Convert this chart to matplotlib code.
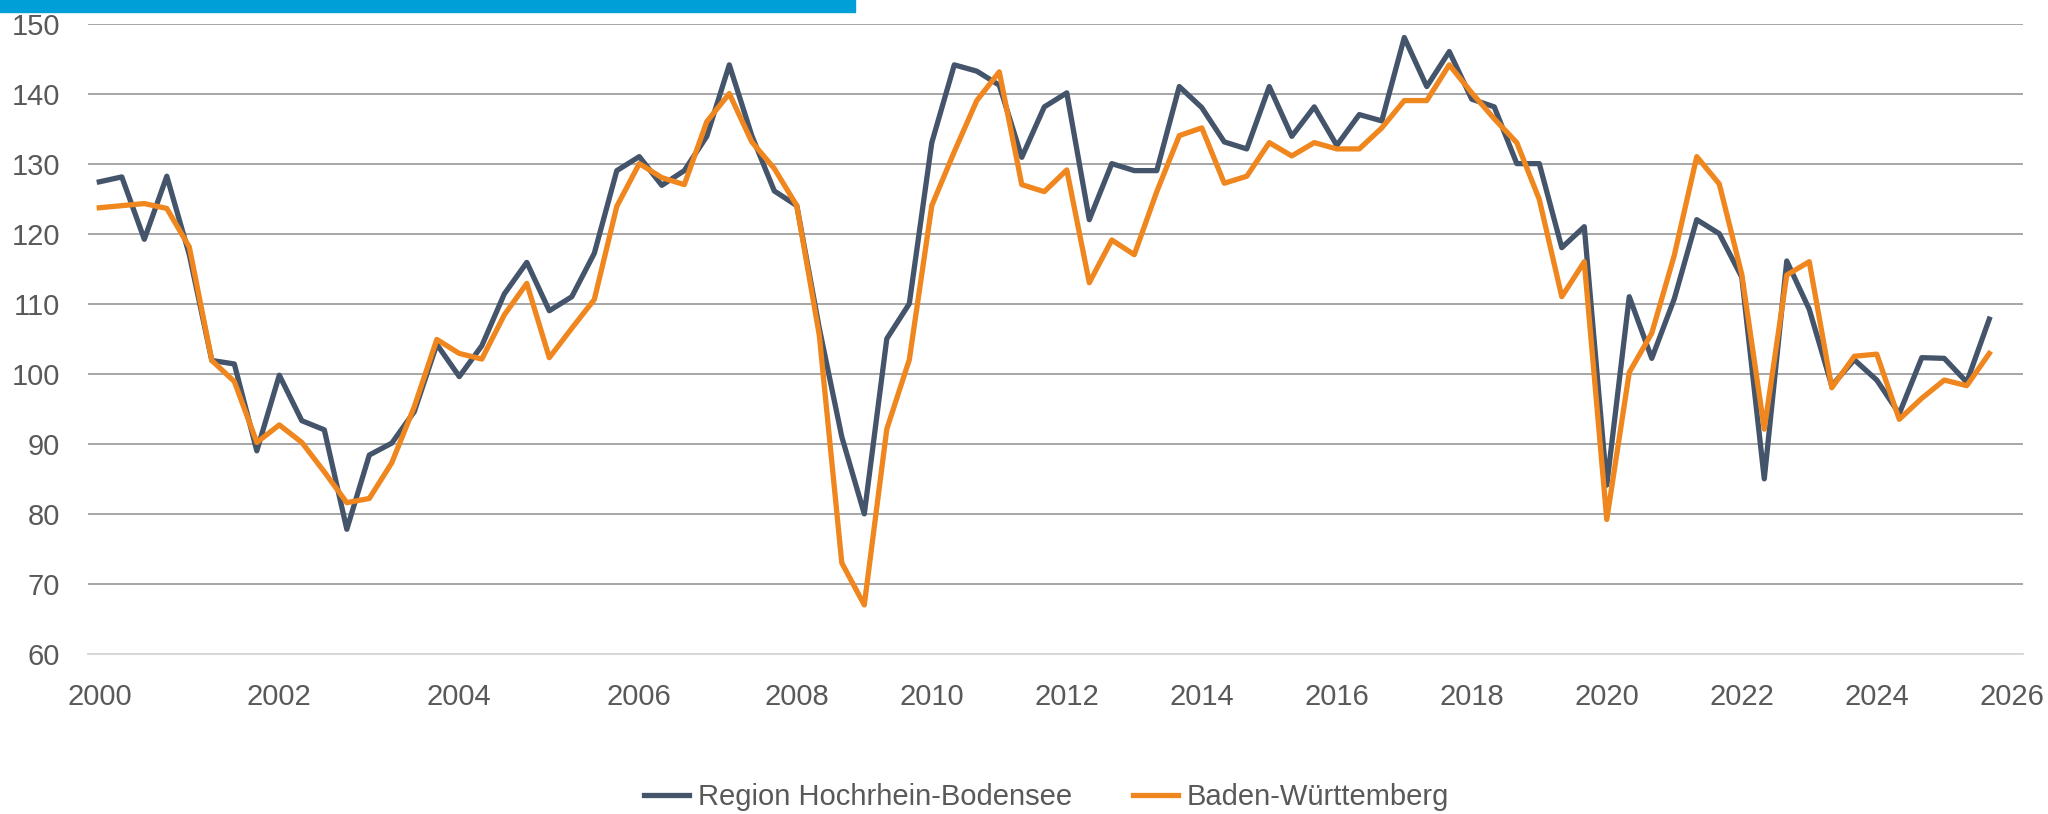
import matplotlib
matplotlib.use("Agg")
import matplotlib.pyplot as plt
import pandas as pd
from matplotlib.patches import Rectangle

DARK = "#44546a"
ORANGE = "#ef861e"
GRID = "#a6a6a6"
AXIS = "#d9d9d9"
TEXT = "#595959"
BAR = "#009fd8"

plt.rcParams["font.family"] = ["Liberation Sans", "DejaVu Sans"]

# survey waves: four per year up to 2006, three per year from 2007 on
years_quarterly = [2000, 2001, 2002, 2003, 2004, 2005, 2006]
years_triannual = [2007, 2008, 2009, 2010, 2011, 2012, 2013, 2014, 2015, 2016,
                   2017, 2018, 2019, 2020, 2021, 2022, 2023, 2024, 2025]
tick_years = [2000, 2002, 2004, 2006, 2008, 2010, 2012, 2014, 2016, 2018,
              2020, 2022, 2024, 2026]

region = [127.4, 128.1, 119.2, 128.2, 117.0, 101.9, 101.4, 89.0, 99.8, 93.3,
          92.0, 77.8, 88.4, 90.1, 94.6, 104.2, 99.6, 104.0, 111.4, 115.9,
          109.0, 111.0, 117.2, 129.0, 131.0, 126.9, 129.0, 133.9, 144.1, 134.0,
          126.1, 124.0, 106.5, 91.0, 80.0, 105.0, 110.0, 133.0, 144.1, 143.2,
          141.2, 130.9, 138.1, 140.1, 122.0, 130.0, 129.0, 129.0, 141.0, 138.0,
          133.1, 132.1, 141.0, 133.9, 138.1, 132.6, 137.0, 136.1, 148.0, 141.0,
          146.0, 139.2, 138.1, 130.0, 130.0, 118.0, 121.0, 84.1, 111.0, 102.2,
          110.7, 122.0, 120.0, 113.8, 85.0, 116.1, 109.2, 98.3, 102.0, 99.1,
          94.3, 102.3, 102.2, 98.8, 107.8]

bw = [123.7, 124.0, 124.3, 123.6, 118.1, 101.9, 98.9, 90.2, 92.7, 90.2,
      86.0, 81.6, 82.2, 87.3, 95.3, 104.9, 102.9, 102.1, 108.4, 112.9,
      102.3, 106.5, 110.6, 123.9, 130.0, 128.0, 127.0, 136.0, 140.0, 133.1,
      129.3, 124.0, 105.5, 73.0, 67.0, 92.1, 102.0, 124.0, 131.7, 139.0,
      143.1, 127.0, 126.0, 129.1, 113.0, 119.1, 117.0, 126.0, 134.0, 135.1,
      127.2, 128.2, 133.0, 131.1, 133.0, 132.1, 132.1, 135.1, 139.0, 139.0,
      144.1, 140.1, 136.4, 133.0, 124.9, 111.0, 116.0, 79.2, 100.2, 105.8,
      116.9, 131.0, 127.1, 114.2, 92.1, 114.1, 116.0, 98.0, 102.5, 102.8,
      93.5, 96.5, 99.1, 98.3, 102.9]

periods = ([f"{y}-{n}" for y in years_quarterly for n in range(1, 5)]
           + [f"{y}-{n}" for y in years_triannual for n in range(1, 4)]
           + ["2026-1"])

data = pd.DataFrame({"Region Hochrhein-Bodensee": region,
                     "Baden-Württemberg": bw}, index=periods[:len(region)])

fig = plt.figure(figsize=(20.48, 8.14), dpi=100)
ax = fig.add_axes([0.043, 0.1966, 0.9448, 0.7745])

x = range(len(data))
ax.plot(x, data["Region Hochrhein-Bodensee"], color=DARK, lw=3.8,
        solid_joinstyle="round", label="Region Hochrhein-Bodensee")
ax.plot(x, data["Baden-Württemberg"], color=ORANGE, lw=3.8,
        solid_joinstyle="round", label="Baden-Württemberg")

ax.set_xlim(-0.5, len(periods) - 0.5)
ax.set_ylim(60, 150)
ax.set_yticks(range(60, 151, 10))
ax.set_xticks([periods.index(f"{y}-1") for y in tick_years])
ax.set_xticklabels([str(y) for y in tick_years])

ax.grid(axis="y", color=GRID, lw=1.4)
ax.set_axisbelow(True)
for side in ["top", "right", "left"]:
    ax.spines[side].set_visible(False)
ax.spines["bottom"].set_color(AXIS)
ax.spines["bottom"].set_linewidth(1.4)
ax.tick_params(axis="both", length=0, labelsize=21, labelcolor=TEXT)
ax.tick_params(axis="y", pad=20)
ax.tick_params(axis="x", pad=21)

leg = fig.legend(loc="center", bbox_to_anchor=(0.511, 1 - 797 / 814), ncol=2,
                 frameon=False, fontsize=21, handlelength=1.55,
                 handletextpad=0.3, columnspacing=2.1)
for t in leg.get_texts():
    t.set_color(TEXT)

fig.patches.append(Rectangle((0, 1 - 12 / 814), 855 / 2048, 12 / 814,
                             transform=fig.transFigure, color=BAR, zorder=5))

fig.savefig("out.png", dpi=100)
